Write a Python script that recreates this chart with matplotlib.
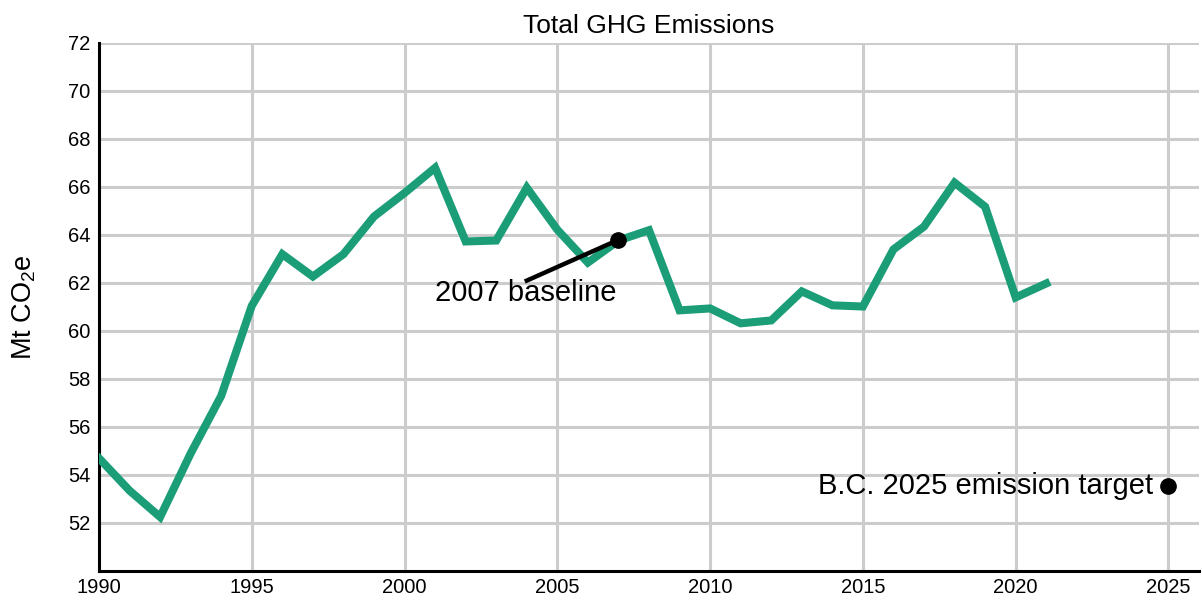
import matplotlib
matplotlib.use("Agg")
import matplotlib.pyplot as plt

# ---------------------------
# Dados
# ---------------------------
anos = list(range(1990, 2022))
emissoes = [54.7, 53.35, 52.25, 54.9, 57.3, 61.05, 63.2, 62.27, 63.2, 64.77,
            65.75, 66.8, 63.73, 63.77, 65.97, 64.22, 62.85, 63.77, 64.2, 60.86,
            60.94, 60.32, 60.44, 61.65, 61.07, 61.02, 63.4, 64.35, 66.18, 65.18,
            61.4, 61.98]

ano_base = 2007
valor_base = 63.8
ano_meta = 2025
valor_meta = 53.55

x_ticks = [1990, 1995, 2000, 2005, 2010, 2015, 2020, 2025]
y_ticks = [52, 54, 56, 58, 60, 62, 64, 66, 68, 70, 72]

# ---------------------------
# Estilo
# ---------------------------
plt.rcParams['font.family'] = ['Liberation Sans', 'DejaVu Sans']
plt.rcParams['mathtext.fontset'] = 'custom'
plt.rcParams['mathtext.rm'] = 'Liberation Sans'
plt.rcParams['mathtext.it'] = 'Liberation Sans'

VERDE = '#1b9e77'

fig = plt.figure(figsize=(12.02, 6.03), dpi=100)
ax = fig.add_axes([99 / 1202, 1 - 571 / 603, 1100 / 1202, 528 / 603])

ax.plot(anos, emissoes, color=VERDE, lw=5.8, solid_joinstyle='miter', zorder=3)

# 2007 baseline
ax.plot([ano_base, 2004.0], [valor_base, 62.1], color='black', lw=3.2, zorder=4)
ax.plot([ano_base], [valor_base], 'o', color='black', ms=11, zorder=5)
ax.text(2003.95, 62.15, '2007 baseline', ha='center', va='top', fontsize=21)

# target
ax.plot([ano_meta], [valor_meta], 'o', color='black', ms=11, zorder=5, clip_on=False)
ax.annotate('B.C. 2025 emission target', xy=(ano_meta, valor_meta),
            xytext=(-11, 0), textcoords='offset points',
            ha='right', va='center', fontsize=21)

ax.set_xlim(1990, 2026)
ax.set_ylim(50, 72)
ax.set_xticks(x_ticks)
ax.set_yticks(y_ticks)
ax.tick_params(axis='both', length=0, labelsize=14.5)
ax.tick_params(axis='y', pad=6)
ax.tick_params(axis='x', pad=5)

ax.grid(True, color='#cccccc', lw=2.2, zorder=0)
ax.set_axisbelow(True)
for lado in ['top', 'right']:
    ax.spines[lado].set_visible(False)
for lado in ['left', 'bottom']:
    ax.spines[lado].set_linewidth(2.2)
    ax.spines[lado].set_color('black')

ax.set_title('Total GHG Emissions', fontsize=19, pad=7)
ax.set_ylabel('Mt CO$_2$e', fontsize=19.5, labelpad=22)

fig.savefig('out.png', dpi=100)
